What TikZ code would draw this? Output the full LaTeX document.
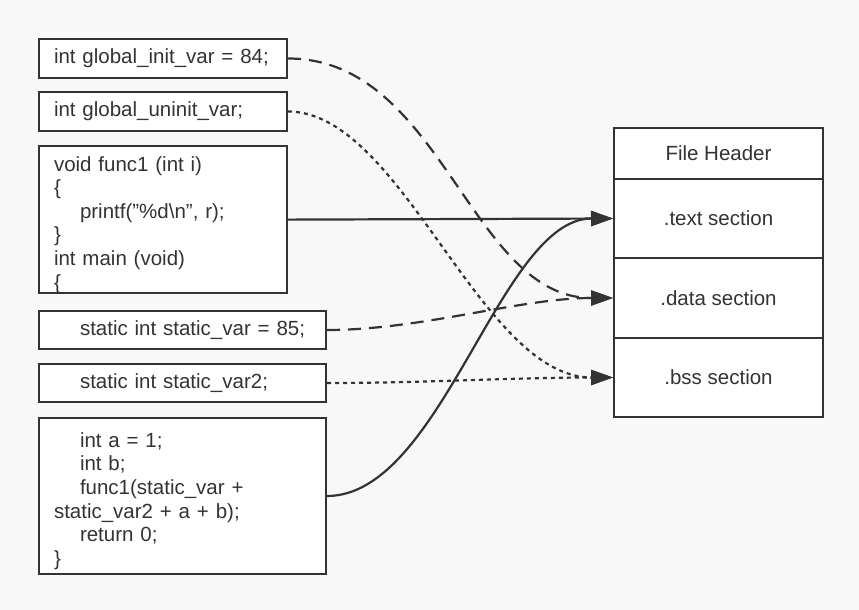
\documentclass[tikz,border=0pt]{standalone}
\usepackage{fontspec}
\setmainfont{Liberation Sans}
\usetikzlibrary{arrows.meta}
\definecolor{bg}{HTML}{F8F8F8}
\definecolor{ink}{HTML}{333333}
\begin{document}
\begin{tikzpicture}[x=1pt,y=-1pt,
  box/.style={draw=ink, line width=2pt, fill=white, anchor=north west, inner xsep=15pt, inner ysep=0pt, align=left, font=\fontsize{20.5}{23.6}\selectfont, text=ink},
  sect/.style={draw=ink, line width=2pt, fill=white, anchor=north west, minimum width=209pt, inner sep=0pt, font=\fontsize{20.5}{24}\selectfont, text=ink},
  conn/.style={draw=ink, line width=2.2pt, -{Triangle[length=22pt,width=15pt]}},
  dashline/.style={conn, dash pattern=on 13pt off 8pt},
  dotline/.style={conn, dash pattern=on 4pt off 4pt}]
\fill[bg] (0,0) rectangle (859,610);
\useasboundingbox (0,0) rectangle (859,610);
\newcommand{\ind}{\hspace*{26pt}}
\newcommand{\tallfirst}{\rule{0pt}{25pt}}
\node[box, minimum width=248pt, minimum height=39pt, text width=218pt] (b1) at (38,38) {int global\_init\_var = 84;};
\node[box, minimum width=248pt, minimum height=39pt, text width=218pt] (b2) at (38,91) {int global\_uninit\_var;};
\node[box, minimum width=248pt, minimum height=147pt, text width=218pt] (b3) at (38,145) {\tallfirst void func1 (int i)\\\{\\\ind printf(\symbol{"22}\%d\textbackslash n\symbol{"22}, r);\\\}\\int main (void)\\\{};
\node[box, minimum width=287pt, minimum height=38pt, text width=257pt] (b4) at (38,310) {\ind static int static\_var = 85;};
\node[box, minimum width=287pt, minimum height=38pt, text width=257pt] (b5) at (38,363) {\ind static int static\_var2;};
\node[box, minimum width=287pt, minimum height=156pt, text width=257pt] (b6) at (38,417) {\tallfirst\ind int a = 1;\\\ind int b;\\\ind func1(static\_var +\\static\_var2 + a + b);\\\ind return 0;\\\}};
\node[sect, minimum height=51pt] (hdr) at (613,127) {File Header};
\node[sect, minimum height=79pt] (txt) at (613,178) {.text section};
\node[sect, minimum height=80pt] (dat) at (613,257) {.data section};
\node[sect, minimum height=79pt] (bss) at (613,337) {.bss section};
\draw[dashline] (b1.east) .. controls +(154,0) and +(-143,0) .. (dat.west);
\draw[dotline] (b2.east) .. controls +(114,0) and +(-133,0) .. (bss.west);
\draw[conn] (b3.east) -- (txt.west);
\draw[dashline] (b4.east) .. controls +(95,0) and +(-93,0) .. (dat.west);
\draw[dotline] (b5.east) .. controls +(100,0) and +(-100,0) .. (bss.west);
\draw[conn] (b6.east) .. controls +(115,0) and +(-113,0) .. (txt.west);
\end{tikzpicture}
\end{document}
